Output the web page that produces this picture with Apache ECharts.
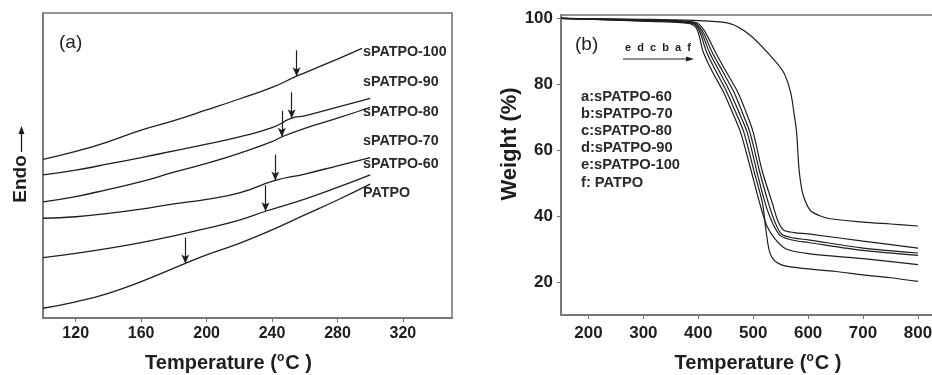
<!DOCTYPE html>
<html>
<head>
<meta charset="utf-8">
<script src="https://cdn.jsdelivr.net/npm/echarts@6/dist/echarts.min.js"></script>
<style>
  html, body { margin: 0; padding: 0; background: #fff; }
  #chart { width: 932px; height: 375px; }
</style>
</head>
<body>
<div id="chart"></div>
<script>
// panel (a): DSC curves, arbitrary endo units, [T, value]
const namesA = ['sPATPO-100', 'sPATPO-90', 'sPATPO-80', 'sPATPO-70', 'sPATPO-60', 'PATPO']
const s100 = [[100,52.0],[120,54.6],[140,57.8],[160,61.6],[180,64.7],[200,68.2],[220,71.8],[240,75.6],[255,79.3],[260,80.4],[280,84.9],[295,88.4]]
const s90 = [[100,46.9],[120,48.5],[140,50.5],[160,52.6],[180,54.8],[200,57.0],[220,59.4],[240,62.4],[252,65.5],[260,66.3],[280,69.1],[300,72.0]]
const s80 = [[100,38.1],[120,39.8],[140,42.2],[160,44.7],[180,47.8],[200,50.7],[220,54.0],[240,57.8],[246,59.4],[260,62.2],[280,65.5],[300,69.1]]
const s70 = [[100,32.7],[120,33.2],[140,34.3],[160,35.7],[180,37.4],[200,38.9],[220,41.0],[242,45.1],[260,47.2],[280,49.9],[300,52.6]]
const s60 = [[100,19.8],[120,21.2],[140,22.8],[160,24.7],[180,26.9],[200,29.4],[220,32.1],[236,35.0],[260,39.0],[280,42.8],[300,46.9]]
const patpo = [[100,3.2],[120,5.3],[140,8.1],[160,11.9],[187,17.9],[200,20.7],[220,24.5],[240,28.9],[260,33.8],[280,38.7],[300,43.9]]
const curvesA = [s100, s90, s80, s70, s60, patpo]
// Tg arrows: temperature and curve value at the tip
const arrowT = [255, 252, 246, 242, 236, 187]
const arrowV = [79.3, 65.5, 59.4, 45.1, 35.0, 17.9]
const ticksA = [120, 160, 200, 240, 280, 320]

// panel (b): TGA curves, [T, weight %]
const tgaA = [[150,100],[300,99.5],[395,98.8],[410,96.5],[431,89.8],[450,84],[472,77.6],[487,71.5],[500,65.4],[516,53.9],[535,43.8],[545,38.5],[555,35.8],[575,35],[600,34.6],[700,32.4],[800,30.3]]
const tgaB = [[150,100],[300,99.4],[392,98.7],[407,96.3],[425,89.8],[444,84],[465,77.6],[480,71.5],[494,65.4],[511,53.9],[528,43.8],[540,38],[552,34.5],[575,33.3],[600,32.8],[700,30.3],[800,28.8]]
const tgaC = [[150,100],[300,99.2],[390,98.5],[404,96.3],[420,89.8],[438,84],[458,77.6],[474,71.5],[489,65.4],[506,53.9],[522,43.8],[535,38],[550,34],[575,32.6],[600,32],[700,29.6],[800,28.1]]
const tgaD = [[150,100],[300,99.1],[385,98.4],[398,96.5],[409,89.8],[425,84],[446,77.6],[462,71.5],[477,65.4],[496,53.9],[512,43.8],[525,37],[540,33],[560,30],[600,28.6],[700,27.1],[800,25.3]]
const tgaE = [[150,100],[300,99.3],[388,98.6],[401,96.5],[415,89.8],[432,84],[452,77.6],[468,71.5],[483,65.4],[501,53.9],[517,43.8],[523,36],[530,29],[540,26.3],[560,24.8],[600,24],[650,23.2],[700,22.2],[750,21.3],[800,20.2]]
const tgaF = [[150,100],[300,99.7],[400,99.3],[458,98.4],[495,94.8],[531,88.7],[555,83.7],[568,77.6],[574,71.5],[579,65.4],[583,55],[587,49.5],[592,45.8],[604,41.7],[620,40.2],[640,39.2],[700,38.2],[750,37.6],[800,37.0]]
const curvesB = [tgaA, tgaB, tgaC, tgaD, tgaE, tgaF]
const ticksB = [200, 300, 400, 500, 600, 700, 800]
const ticksW = [20, 40, 60, 80, 100]
const legendB = ['a:sPATPO-60', 'b:sPATPO-70', 'c:sPATPO-80', 'd:sPATPO-90', 'e:sPATPO-100', 'f: PATPO']

const FONT = "'Liberation Sans', Arial, sans-serif"
const INK = '#1e1e1e'
const FRAME = '#707070'

const chart = echarts.init(document.getElementById('chart'))

const tempName = (pad) => ({
  name: 'Temperature ({sup|o}C )',
  nameLocation: 'middle',
  nameTextStyle: {
    fontFamily: FONT, fontSize: 20, fontWeight: 'bold', color: INK, padding: pad,
    rich: { sup: { fontFamily: FONT, fontSize: 12, fontWeight: 'bold', color: INK, verticalAlign: 'top', padding: [0, 1, 10, 0] } }
  }
})

const seriesA = curvesA.map((d, i) => ({
  name: namesA[i],
  type: 'line',
  xAxisIndex: 0,
  yAxisIndex: 0,
  data: d,
  smooth: true,
  showSymbol: false,
  lineStyle: { color: INK, width: 1.3 },
  markLine: {
    silent: true,
    symbol: ['none', 'arrow'],
    symbolSize: [6, 9],
    label: { show: false },
    lineStyle: { color: INK, width: 1.2, type: 'solid' },
    data: [[{ coord: [arrowT[i], arrowV[i] + 8.5] }, { coord: [arrowT[i], arrowV[i]] }]]
  }
}))

const seriesB = curvesB.map((d, i) => ({
  name: legendB[i],
  type: 'line',
  xAxisIndex: 1,
  yAxisIndex: 1,
  data: d,
  smooth: 0.3,
  showSymbol: false,
  lineStyle: { color: INK, width: 1.2 }
}))

const labelYA = [51.7, 81.7, 111.7, 140.7, 164.3, 193.3]

const option = {
  animation: false,
  backgroundColor: '#fff',
  grid: [
    { left: 43, top: 13, width: 409, height: 305, outerBoundsMode: 'none', show: true, borderColor: FRAME, borderWidth: 1.5, backgroundColor: 'transparent' },
    { left: 561, top: 15, width: 374, height: 300, outerBoundsMode: 'none', show: true, borderColor: FRAME, borderWidth: 1.5, backgroundColor: 'transparent' }
  ],
  xAxis: [
    Object.assign({}, tempName([0, 38, 0, 0]), {
      type: 'value', gridIndex: 0, min: 100, max: 350, nameGap: 34,
      axisLine: { lineStyle: { color: FRAME, width: 1.5 } },
      axisTick: { show: true, length: 4, customValues: ticksA, lineStyle: { color: FRAME } },
      axisLabel: { customValues: ticksA, fontFamily: FONT, fontSize: 16, fontWeight: 'bold', color: INK, margin: 8 },
      splitLine: { show: false }
    }),
    Object.assign({}, tempName([0, 0, 0, 20]), {
      type: 'value', gridIndex: 1, min: 150, max: 831, nameGap: 37,
      axisLine: { lineStyle: { color: FRAME, width: 1.5 } },
      axisTick: { show: true, length: 4, customValues: ticksB, lineStyle: { color: FRAME } },
      axisLabel: { customValues: ticksB, fontFamily: FONT, fontSize: 17, fontWeight: 'bold', color: INK, margin: 10 },
      splitLine: { show: false }
    })
  ],
  yAxis: [
    {
      type: 'value', gridIndex: 0, min: 0, max: 100,
      axisLine: { show: true, lineStyle: { color: FRAME, width: 1.5 } },
      axisTick: { show: false }, axisLabel: { show: false }, splitLine: { show: false }
    },
    {
      type: 'value', gridIndex: 1, min: 10, max: 101,
      name: 'Weight (%)', nameLocation: 'middle', nameGap: 38,
      nameTextStyle: { fontFamily: FONT, fontSize: 22, fontWeight: 'bold', color: INK, padding: [0, 0, 0, 42] },
      axisLine: { show: true, lineStyle: { color: FRAME, width: 1.5 } },
      axisTick: { show: true, length: 4, customValues: ticksW, lineStyle: { color: FRAME } },
      axisLabel: { customValues: ticksW, fontFamily: FONT, fontSize: 17, fontWeight: 'bold', color: INK, margin: 8 },
      splitLine: { show: false }
    }
  ],
  graphic: [
    { type: 'text', x: 59, y: 43, style: { text: '(a)', font: '19px ' + FONT, fill: INK, verticalAlign: 'middle' } },
    ...namesA.map((n, i) => ({
      type: 'text', x: 363, y: labelYA[i],
      style: { text: n, font: 'bold 14.3px ' + FONT, fill: '#2a2a2a', verticalAlign: 'middle' }
    })),
    { type: 'text', x: 20.5, y: 179, rotation: Math.PI / 2,
      style: { text: 'Endo', font: 'bold 19px ' + FONT, fill: INK, align: 'center', verticalAlign: 'middle' } },
    { type: 'line', shape: { x1: 21.5, y1: 152, x2: 21.5, y2: 131 }, style: { stroke: INK, lineWidth: 1.3 } },
    { type: 'polygon', shape: { points: [[18.5, 134], [24.5, 134], [21.5, 126]] }, style: { fill: INK } },

    { type: 'text', x: 575, y: 45, style: { text: '(b)', font: '19px ' + FONT, fill: INK, verticalAlign: 'middle' } },
    { type: 'text', x: 625, y: 48, style: { text: 'e  d  c  b  a  f', font: 'bold 11px ' + FONT, fill: INK, verticalAlign: 'middle' } },
    { type: 'line', shape: { x1: 623, y1: 59, x2: 690, y2: 59 }, style: { stroke: INK, lineWidth: 1.1 } },
    { type: 'polygon', shape: { points: [[686, 56.5], [686, 61.5], [694, 59]] }, style: { fill: INK } },
    { type: 'text', x: 581, y: 88,
      style: { text: legendB.join('\n'), font: 'bold 14.7px ' + FONT, fill: '#2a2a2a', lineHeight: 17.2 } }
  ],
  series: seriesA.concat(seriesB)
}

chart.setOption(option)
</script>
</body>
</html>
